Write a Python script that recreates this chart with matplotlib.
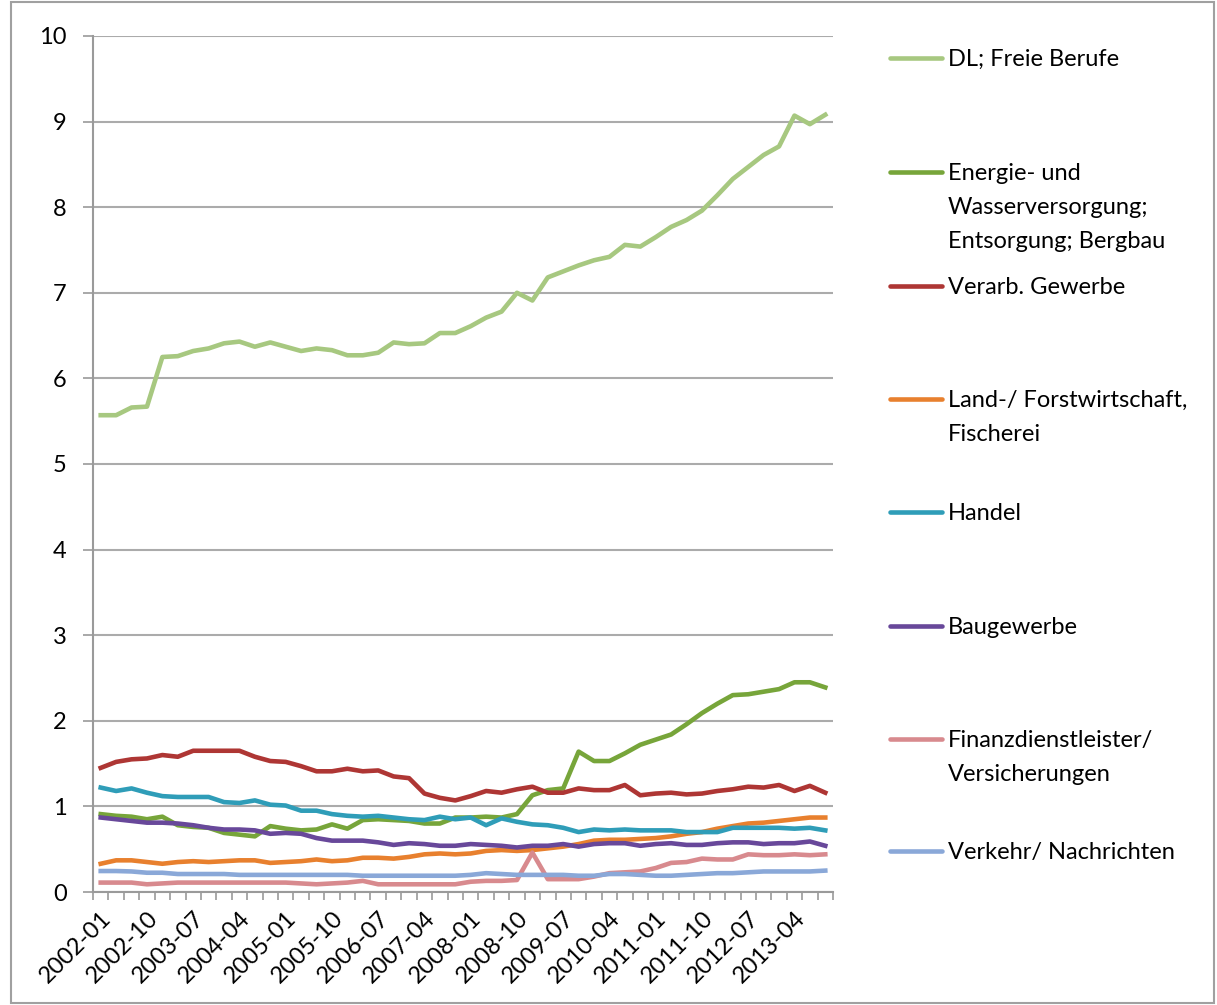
import matplotlib
matplotlib.use("Agg")
import matplotlib.pyplot as plt
from matplotlib.lines import Line2D
from matplotlib.patches import Rectangle

plt.rcParams["font.family"] = ["Lato", "DejaVu Sans"]

# quarterly categories 2002-01 .. 2013-10
quarters = [f"{y}-{m:02d}" for y in range(2002, 2014) for m in (1, 4, 7, 10)]

dl_freie_berufe = [
    5.57, 5.57, 5.66, 5.67, 6.25, 6.26, 6.32, 6.35, 6.41, 6.43, 6.37, 6.42,
    6.37, 6.32, 6.35, 6.33, 6.27, 6.27, 6.30, 6.42, 6.40, 6.41, 6.53, 6.53,
    6.61, 6.71, 6.78, 7.00, 6.91, 7.18, 7.25, 7.32, 7.38, 7.42, 7.56, 7.54,
    7.65, 7.77, 7.85, 7.96, 8.14, 8.33, 8.47, 8.61, 8.71, 9.07, 8.97, 9.08,
]
energie = [
    0.91, 0.89, 0.88, 0.85, 0.88, 0.78, 0.76, 0.75, 0.69, 0.67, 0.65, 0.77,
    0.74, 0.72, 0.73, 0.79, 0.74, 0.84, 0.85, 0.84, 0.83, 0.80, 0.80, 0.87,
    0.87, 0.88, 0.87, 0.91, 1.13, 1.19, 1.21, 1.64, 1.53, 1.53, 1.62, 1.72,
    1.78, 1.84, 1.96, 2.09, 2.20, 2.30, 2.31, 2.34, 2.37, 2.45, 2.45, 2.39,
]
verarb_gewerbe = [
    1.45, 1.52, 1.55, 1.56, 1.60, 1.58, 1.65, 1.65, 1.65, 1.65, 1.58, 1.53,
    1.52, 1.47, 1.41, 1.41, 1.44, 1.41, 1.42, 1.35, 1.33, 1.15, 1.10, 1.07,
    1.12, 1.18, 1.16, 1.20, 1.23, 1.16, 1.16, 1.21, 1.19, 1.19, 1.25, 1.13,
    1.15, 1.16, 1.14, 1.15, 1.18, 1.20, 1.23, 1.22, 1.25, 1.18, 1.24, 1.16,
]
land_forst = [
    0.33, 0.37, 0.37, 0.35, 0.33, 0.35, 0.36, 0.35, 0.36, 0.37, 0.37, 0.34,
    0.35, 0.36, 0.38, 0.36, 0.37, 0.40, 0.40, 0.39, 0.41, 0.44, 0.45, 0.44,
    0.45, 0.48, 0.49, 0.48, 0.49, 0.51, 0.53, 0.56, 0.60, 0.61, 0.61, 0.62,
    0.63, 0.65, 0.68, 0.70, 0.74, 0.77, 0.80, 0.81, 0.83, 0.85, 0.87, 0.87,
]
handel = [
    1.22, 1.18, 1.21, 1.16, 1.12, 1.11, 1.11, 1.11, 1.05, 1.04, 1.07, 1.02,
    1.01, 0.95, 0.95, 0.91, 0.89, 0.88, 0.89, 0.87, 0.85, 0.84, 0.88, 0.85,
    0.87, 0.78, 0.86, 0.82, 0.79, 0.78, 0.75, 0.70, 0.73, 0.72, 0.73, 0.72,
    0.72, 0.72, 0.70, 0.70, 0.70, 0.75, 0.75, 0.75, 0.75, 0.74, 0.75, 0.72,
]
baugewerbe = [
    0.87, 0.85, 0.83, 0.81, 0.81, 0.80, 0.78, 0.75, 0.73, 0.73, 0.72, 0.68,
    0.69, 0.68, 0.63, 0.60, 0.60, 0.60, 0.58, 0.55, 0.57, 0.56, 0.54, 0.54,
    0.56, 0.55, 0.54, 0.52, 0.54, 0.54, 0.56, 0.53, 0.56, 0.57, 0.57, 0.54,
    0.56, 0.57, 0.55, 0.55, 0.57, 0.58, 0.58, 0.56, 0.57, 0.57, 0.59, 0.54,
]
finanz = [
    0.11, 0.11, 0.11, 0.09, 0.10, 0.11, 0.11, 0.11, 0.11, 0.11, 0.11, 0.11,
    0.11, 0.10, 0.09, 0.10, 0.11, 0.13, 0.09, 0.09, 0.09, 0.09, 0.09, 0.09,
    0.12, 0.13, 0.13, 0.14, 0.46, 0.15, 0.15, 0.15, 0.18, 0.22, 0.23, 0.24,
    0.28, 0.34, 0.35, 0.39, 0.38, 0.38, 0.44, 0.43, 0.43, 0.44, 0.43, 0.44,
]
verkehr = [
    0.245, 0.245, 0.24, 0.225, 0.225, 0.21, 0.21, 0.21, 0.21, 0.20, 0.20, 0.20,
    0.20, 0.20, 0.20, 0.20, 0.20, 0.19, 0.19, 0.19, 0.19, 0.19, 0.19, 0.19,
    0.20, 0.22, 0.21, 0.20, 0.20, 0.20, 0.20, 0.19, 0.19, 0.21, 0.21, 0.20,
    0.19, 0.19, 0.20, 0.21, 0.22, 0.22, 0.23, 0.24, 0.24, 0.24, 0.24, 0.25,
]

# (label, values, colour, legend y in pixels from top)
SERIES = [
    ("DL; Freie Berufe", dl_freie_berufe, "#A7C880", 58),
    ("Energie- und\nWasserversorgung;\nEntsorgung; Bergbau", energie, "#77A53A", 172),
    ("Verarb. Gewerbe", verarb_gewerbe, "#AE3634", 286),
    ("Land-/ Forstwirtschaft,\nFischerei", land_forst, "#E8802E", 399),
    ("Handel", handel, "#2F9DB8", 512),
    ("Baugewerbe", baugewerbe, "#68489A", 626),
    ("Finanzdienstleister/\nVersicherungen", finanz, "#D88A8E", 739),
    ("Verkehr/ Nachrichten", verkehr, "#8AA8D8", 851),
]

FS = 17
W, H = 1217, 1005
fig = plt.figure(figsize=(W / 100, H / 100), dpi=100)
ax = fig.add_axes([93 / W, 1 - 892 / H, (833 - 93) / W, (892 - 36) / H])

x = list(range(len(quarters)))
for label, values, color, _ in SERIES:
    ax.plot(x, values, color=color, lw=3.3, solid_joinstyle="round", clip_on=False)

ax.set_xlim(-0.5, len(quarters) - 0.5)
ax.set_ylim(0, 10)
ax.set_yticks(range(0, 11))
ax.grid(axis="y", color="#ABABAB", lw=1.5)
ax.set_axisbelow(True)

for side in ("top", "right"):
    ax.spines[side].set_visible(False)
for side in ("left", "bottom"):
    ax.spines[side].set_color("#9A9A9A")
    ax.spines[side].set_linewidth(1.5)

ax.set_xticks(x[::3])
ax.set_xticklabels(quarters[::3], rotation=45, ha="right", va="top",
                   rotation_mode="anchor", fontsize=FS)
ax.set_xticks([i - 0.5 for i in range(len(quarters) + 1)], minor=True)
ax.tick_params(axis="x", which="major", length=0, pad=11)
ax.tick_params(axis="x", which="minor", length=6, width=1.2, color="#9A9A9A")
ax.tick_params(axis="y", length=7, width=1.2, color="#9A9A9A", pad=12,
               labelsize=FS)

# legend drawn by hand to match the wide spacing on the right
for label, _, color, ypx in SERIES:
    yf = 1 - ypx / H
    fig.add_artist(Line2D([890 / W, 942 / W], [yf, yf], color=color, lw=3.3,
                          solid_capstyle="round"))
    fig.text(948 / W, yf + 9 / H, label, fontsize=FS, va="top", ha="left",
             linespacing=1.75)

fig.add_artist(Rectangle((11 / W, 2 / H), (W - 14) / W, (H - 4) / H,
                         transform=fig.transFigure, fill=False,
                         ec="#A0A0A0", lw=1.5))

fig.savefig("out.png", dpi=100)
